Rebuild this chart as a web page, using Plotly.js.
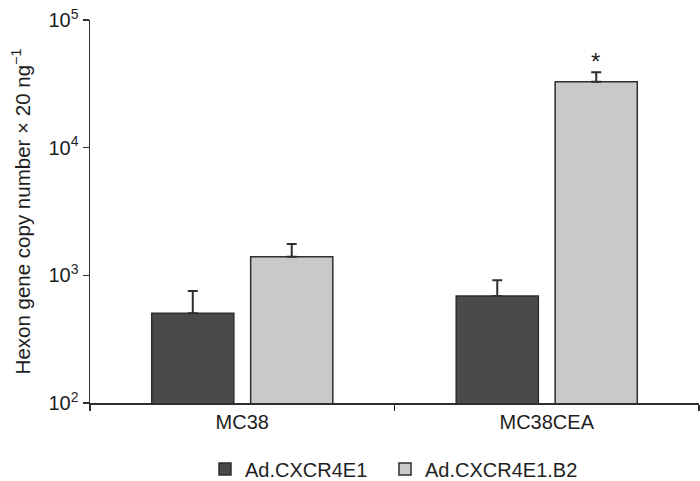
<!DOCTYPE html>
<html>
<head>
<meta charset="utf-8">
<script src="https://cdn.plot.ly/plotly-3.0.1.min.js"></script>
<style>
  html, body { margin: 0; padding: 0; background: #fff; }
  #chart { width: 700px; height: 481px; }
</style>
</head>
<body>
<div id="chart"></div>
<script>
// cell lines on the x axis
let cellLines = ["MC38", "MC38CEA"];

// series: name, mean copy number, upper error
let seriesNames = ["Ad.CXCR4E1", "Ad.CXCR4E1.B2"];
let e1Values = [505, 690];
let e1Errors = [250, 225];
let b2Values = [1400, 32800];
let b2Errors = [360, 6100];

// significance marks (category, label)
let sigCategory = ["MC38CEA"];
let sigLabel = ["*"];

// y ticks
let yTickVals = [100, 1000, 10000, 100000];
let yTickText = ["10<sup>2</sup>", "10<sup>3</sup>", "10<sup>4</sup>", "10<sup>5</sup>"];

var fnt = "Liberation Sans, Arial, Helvetica, sans-serif";
var edge = "#2e2e2e";
var ink = "#1e1e1e";
var logRange = [2, 5];

var trace1 = {
  type: "bar",
  name: seriesNames[0],
  legend: "legend",
  x: cellLines,
  y: e1Values,
  marker: { color: "#4a4a4c", line: { color: edge, width: 1.5 } },
  error_y: {
    type: "data", symmetric: false,
    array: e1Errors, arrayminus: e1Values.map(function(){ return 0 }),
    color: edge, thickness: 2, width: 5
  }
};

var trace2 = {
  type: "bar",
  name: seriesNames[1],
  legend: "legend2",
  x: cellLines,
  y: b2Values,
  marker: { color: "#c8c9cb", line: { color: edge, width: 1.5 } },
  error_y: {
    type: "data", symmetric: false,
    array: b2Errors, arrayminus: b2Values.map(function(){ return 0 }),
    color: edge, thickness: 2, width: 5
  }
};

// asterisk above the error bar of the second series
var notes = [];
for (var i = 0; i < sigCategory.length; i++) {
  var k = cellLines.indexOf(sigCategory[i]);
  var barTop = b2Values[k] + b2Errors[k];
  var frac = (Math.log10(barTop) - logRange[0]) / (logRange[1] - logRange[0]);
  notes.push({
    x: sigCategory[i], y: frac, xref: "x", yref: "paper",
    text: sigLabel[i], showarrow: false, xshift: 49, yanchor: "bottom", yshift: -5,
    font: { family: fnt, size: 24, color: ink }
  });
}

function legendBox(xLeft) {
  return {
    orientation: "h", xref: "container", x: xLeft / 700, xanchor: "left",
    yref: "container", y: 12 / 481, yanchor: "middle",
    font: { family: fnt, size: 20, color: ink },
    itemwidth: 30, bgcolor: "rgba(0,0,0,0)"
  };
}

var layout = {
  width: 700, height: 481,
  margin: { l: 90, r: 1, t: 20, b: 78, autoexpand: false },
  paper_bgcolor: "#fff", plot_bgcolor: "#fff",
  font: { family: fnt, size: 20, color: ink },
  barmode: "group",
  bargap: 0.35,
  bargroupgap: 0.17,
  showlegend: true,
  legend: legendBox(205),
  legend2: legendBox(385),
  xaxis: {
    type: "category",
    showline: true, linecolor: edge, linewidth: 1.5,
    ticks: "outside", tickson: "boundaries", ticklen: 6, tickcolor: edge, tickwidth: 1.5,
    showgrid: false, zeroline: false,
    tickfont: { family: fnt, size: 20, color: ink }
  },
  yaxis: {
    type: "log", range: logRange,
    showline: true, linecolor: edge, linewidth: 1.5,
    ticks: "outside", ticklen: 6, tickcolor: edge, tickwidth: 1.5,
    tickvals: yTickVals, ticktext: yTickText,
    showgrid: false, zeroline: false,
    tickfont: { family: fnt, size: 20, color: ink },
    title: { text: "Hexon gene copy number \u00d7 20 ng<sup>\u22121</sup>", font: { family: fnt, size: 20.5, color: ink }, standoff: 12 }
  },
  annotations: notes
};

Plotly.newPlot("chart", [trace1, trace2], layout, { displayModeBar: false, staticPlot: true });
</script>
</body>
</html>
